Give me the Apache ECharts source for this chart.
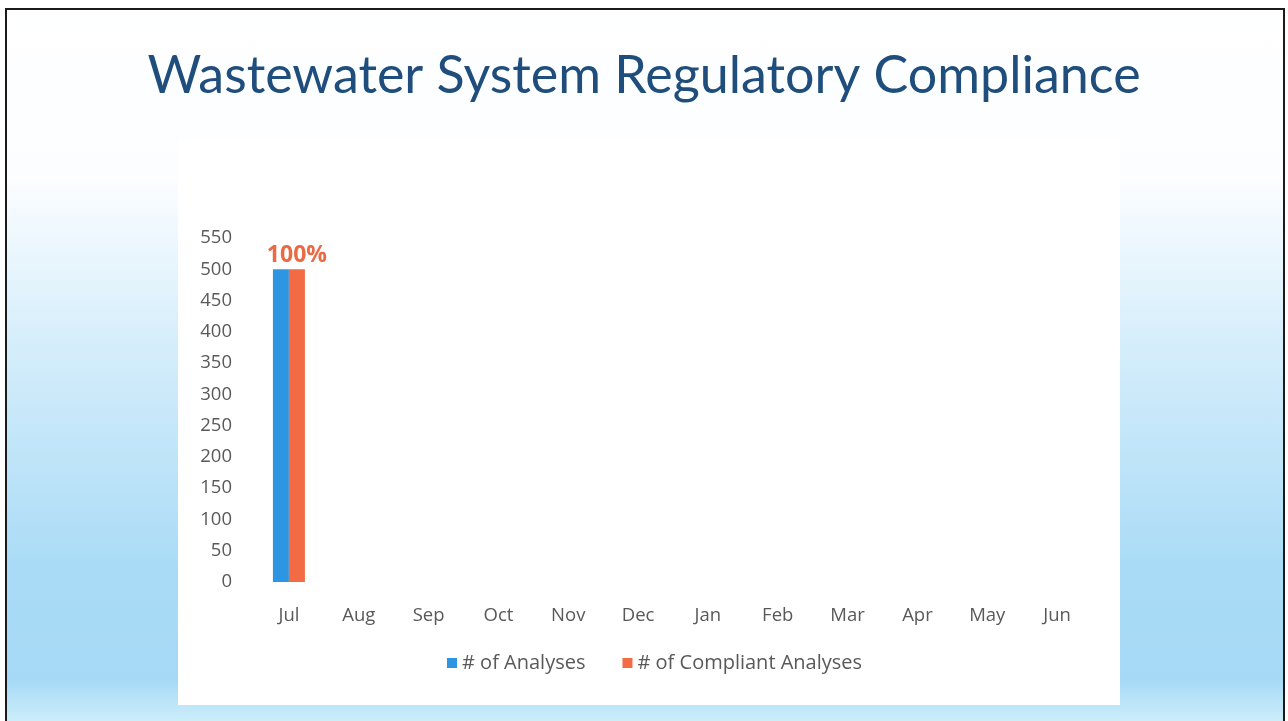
<!DOCTYPE html>
<html lang="en">
  <head>
    <meta charset="utf-8" />
    <title>Wastewater System Regulatory Compliance</title>
    <style>
      * {
        margin: 0;
        padding: 0;
      }
      body {
        width: 1288px;
        height: 721px;
        overflow: hidden;
        background: #ffffff;
      }
      #slide {
        position: absolute;
        left: 5px;
        top: 8px;
        width: 1280px;
        height: 720px;
        border-left: 2px solid #1a1a1a;
        border-top: 2px solid #1a1a1a;
        border-right: 2px solid #1a1a1a;
        box-sizing: border-box;
        background: linear-gradient(
          to bottom,
          #ffffff 0px,
          #fbfdff 170px,
          #d6eefb 330px,
          #a9dbf6 560px,
          #a6d9f5 670px,
          #cdeefa 712px
        );
      }
      #chart-container {
        position: absolute;
        left: 0;
        top: 0;
        width: 1288px;
        height: 721px;
      }
    </style>
  </head>
  <body>
    <div id="slide"></div>
    <div id="chart-container"></div>
    <script src="https://fastly.jsdelivr.net/npm/echarts@6/dist/echarts.min.js"></script>
    <script>
      var months = ["Jul", "Aug", "Sep", "Oct", "Nov", "Dec", "Jan", "Feb", "Mar", "Apr", "May", "Jun"];
      var analyses = [500, null, null, null, null, null, null, null, null, null, null, null];
      var compliant = [500, null, null, null, null, null, null, null, null, null, null, null];

      var dom = document.getElementById("chart-container");
      var myChart = echarts.init(dom, null, { renderer: "canvas" });

      var titleFont = "Lato, 'Open Sans', sans-serif";
      var labelFont = "'Open Sans', Lato, sans-serif";

      var option = {
        backgroundColor: "transparent",
        animation: false,
        title: {
          text: "Wastewater System Regulatory Compliance",
          left: "center",
          top: 45,
          textStyle: {
            fontFamily: titleFont,
            fontSize: 52,
            fontWeight: "normal",
            color: "#1f4e7d",
          },
        },
        graphic: [
          {
            type: "rect",
            z: -10,
            shape: { x: 178, y: 140, width: 942, height: 565 },
            style: { fill: "#ffffff" },
          },
        ],
        legend: {
          bottom: 43,
          left: 442,
          itemWidth: 10,
          itemHeight: 10,
          itemGap: 37,
          icon: "rect",
          textStyle: { fontFamily: labelFont, fontSize: 20, color: "#595959" },
          data: ["# of Analyses", "# of Compliant Analyses"],
        },
        grid: {
          left: 254,
          right: 196,
          top: 238,
          bottom: 139,
        },
        xAxis: {
          type: "category",
          data: months,
          axisLine: { show: false },
          axisTick: { show: false },
          axisLabel: {
            margin: 24,
            fontFamily: labelFont,
            fontSize: 18.5,
            color: "#595959",
          },
        },
        yAxis: {
          type: "value",
          min: 0,
          max: 550,
          interval: 50,
          splitLine: { show: false },
          axisLine: { show: false },
          axisTick: { show: false },
          axisLabel: {
            margin: 22,
            fontFamily: labelFont,
            fontSize: 18.5,
            color: "#595959",
          },
        },
        series: [
          {
            name: "# of Analyses",
            type: "bar",
            barWidth: 16,
            barGap: "0%",
            itemStyle: { color: "#2e95e2" },
            data: analyses,
          },
          {
            name: "# of Compliant Analyses",
            type: "bar",
            barWidth: 16,
            barGap: "0%",
            itemStyle: { color: "#f36b45" },
            label: {
              show: true,
              position: "top",
              distance: 2,
              fontFamily: labelFont,
              fontSize: 23,
              fontWeight: "bold",
              color: "#ea6a43",
              formatter: function (p) {
                var a = analyses[p.dataIndex];
                return a ? Math.round((p.value / a) * 100) + "%" : "";
              },
            },
            data: compliant,
          },
        ],
      };

      myChart.setOption(option);
      window.addEventListener("resize", myChart.resize);
    </script>
  </body>
</html>
